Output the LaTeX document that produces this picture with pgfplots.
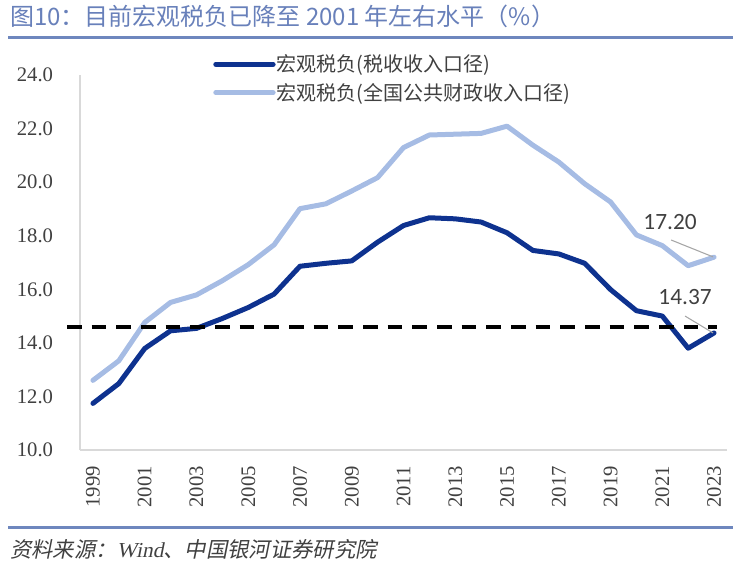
\documentclass[border=0pt]{standalone}
\usepackage{fontspec}
\usepackage{pgfplots}
\pgfplotsset{compat=1.18}
\setmainfont{Liberation Serif}
\newfontfamily\cjk{Noto Sans CJK SC}
\newfontfamily\cjkit[FakeSlant=0.2]{Noto Sans CJK SC}
\newfontfamily\serifit[FakeSlant=0.2]{Liberation Serif}
\newfontfamily\carlito{Carlito}
\definecolor{darkblue}{RGB}{14,50,143}
\definecolor{lightblue}{RGB}{166,188,228}
\definecolor{titleblue}{RGB}{104,128,186}
\definecolor{rulecol}{RGB}{110,135,190}
\definecolor{textgray}{RGB}{64,64,64}
\definecolor{spine}{RGB}{217,217,217}
\definecolor{leader}{RGB}{166,166,166}
\pgfplotstableread{
year dark light
1999 11.74 12.60
2000 12.48 13.33
2001 13.79 14.76
2002 14.45 15.51
2003 14.54 15.79
2004 14.91 16.32
2005 15.32 16.92
2006 15.82 17.66
2007 16.86 19.01
2008 16.97 19.19
2009 17.06 19.67
2010 17.76 20.17
2011 18.38 21.29
2012 18.67 21.76
2013 18.63 21.79
2014 18.51 21.82
2015 18.11 22.09
2016 17.45 21.38
2017 17.32 20.75
2018 16.97 19.94
2019 15.99 19.26
2020 15.20 18.03
2021 15.00 17.63
2022 13.80 16.88
2023 14.37 17.20
}\taxdata
\begin{document}
\begin{tikzpicture}[x=1pt,y=1pt]
\useasboundingbox (0,0) rectangle (561,425.25);
\node[anchor=west, inner sep=0pt, text=titleblue, font=\fontsize{18}{20}\selectfont\cjk] at (7.5,413.25) {图10：目前宏观税负已降至 2001 年左右水平（\%）};
\draw[line width=2.25pt, rulecol] (6,396.75) -- (550,396.75);
\draw[line width=2.25pt, rulecol] (6,30) -- (550,30);
\node[anchor=west, inner sep=0pt, text=textgray, font=\fontsize{16}{18}\selectfont\cjkit] at (7.5,13.5) {资料来源：{\serifit Wind}、中国银河证券研究院};
\begin{axis}[
  at={(60pt,87.75pt)}, anchor=south west,
  scale only axis, width=485.25pt, height=281.25pt,
  xmin=1998.5, xmax=2023.5, ymin=10, ymax=24,
  xtick={1999,2001,...,2023}, ytick={10,12,...,24},
  axis x line*=bottom, axis y line*=left,
  axis line style={draw=spine, line width=1.2pt, -},
  major tick length=0pt,
  tick label style={font=\fontsize{15.5}{17}\selectfont, text=textgray},
  /pgf/number format/assume math mode=true,
  x tick label style={/pgf/number format/1000 sep={}, rotate=90, anchor=east, inner sep=0pt},
  xticklabel shift=12pt,
  y tick label style={/pgf/number format/.cd, fixed, fixed zerofill, precision=1, /tikz/.cd, anchor=east, inner sep=0pt},
  yticklabel shift=20pt,
  clip=false,
  legend style={at={(0.2056,1.058)}, anchor=north west, draw=none, fill=none,
    font=\fontsize{15}{17}\selectfont\cjk, text=textgray, inner sep=0pt,
    row sep=5pt, nodes={inner sep=1pt}},
  legend cell align=left,
  legend image code/.code={\draw[#1] (0pt,0pt) -- (43pt,0pt);},
]
\addplot[darkblue, line width=3.75pt, line join=round, line cap=round] table[x=year, y=dark] {\taxdata};
\addlegendentry{宏观税负(税收收入口径)}
\addplot[lightblue, line width=3.75pt, line join=round, line cap=round] table[x=year, y=light] {\taxdata};
\addlegendentry{宏观税负(全国公共财政收入口径)}
\addplot[black, line width=3pt, dash pattern=on 11pt off 7.5pt, forget plot] coordinates {(1998,14.6) (2023.1,14.6)};
\draw[leader, line width=0.8pt] (axis cs:2021.34,17.84) -- (axis cs:2022.96,17.21);
\draw[leader, line width=0.8pt] (axis cs:2021.88,15.0) -- (axis cs:2022.96,14.37);
\node[text=textgray, font=\fontsize{17.5}{19}\selectfont\carlito, inner sep=0pt] at (axis cs:2021.3,18.51) {17.20};
\node[text=textgray, font=\fontsize{17.5}{19}\selectfont\carlito, inner sep=0pt] at (axis cs:2021.88,15.71) {14.37};
\end{axis}
\end{tikzpicture}
\end{document}
